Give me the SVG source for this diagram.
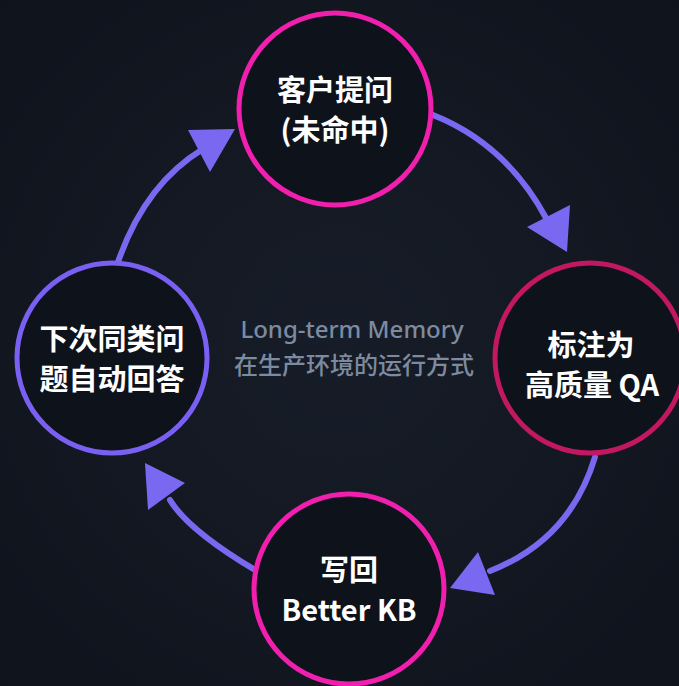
<svg xmlns="http://www.w3.org/2000/svg" width="679" height="686" viewBox="0 0 679 686">
  <defs>
    <radialGradient id="bg" cx="50%" cy="50%" r="70%">
      <stop offset="0" stop-color="#171d28"/>
      <stop offset="1" stop-color="#0f131c"/>
    </radialGradient>
    <style>
      .ring { fill: #0e121a; stroke-width: 5; }
      .pink { stroke: #f01fae; }
      .crimson { stroke: #c21862; }
      .violet { stroke: #7a60f2; }
      .label { font-family: "Noto Sans CJK SC", "Noto Sans", sans-serif; font-weight: 700; font-size: 29px; fill: #ffffff; text-anchor: middle; }
      .center { font-family: "Noto Sans", "Noto Sans CJK SC", sans-serif; font-weight: 500; font-size: 24px; fill: #7d8ba0; text-anchor: middle; }
      .flow { fill: none; stroke: #7b68f0; stroke-width: 6; stroke-linecap: round; }
      .head { fill: #7b68f0; }
    </style>
  </defs>

  <rect width="679" height="686" fill="url(#bg)"/>

  <!-- cycle connectors -->
  <g id="connectors">
    <path class="flow" d="M433 115 Q506 144 546 218"/>
    <polygon class="head" points="567,252 527,227 570,205"/>

    <path class="flow" d="M595 457 Q570 540 490 571"/>
    <polygon class="head" points="450,588 478,552 495,595"/>

    <path class="flow" d="M255 570 Q188 530 170 500"/>
    <polygon class="head" points="145,463 185,483 148,510"/>

    <path class="flow" d="M118 262 Q145 184 203 149"/>
    <polygon class="head" points="235,129 188,130 210,172"/>
  </g>

  <g id="node-ask">
    <circle class="ring pink" cx="335" cy="109" r="96"/>
    <text class="label" x="335" y="101">客户提问</text>
    <text class="label" x="335" y="141">(未命中)</text>
  </g>

  <g id="node-label">
    <circle class="ring crimson" cx="590" cy="358" r="95"/>
    <text class="label" x="591" y="356">标注为</text>
    <text class="label" x="592" y="396">高质量 QA</text>
  </g>

  <g id="node-writeback">
    <circle class="ring pink" cx="349" cy="589" r="95"/>
    <text class="label" x="349" y="581">写回</text>
    <text class="label" x="349" y="621">Better KB</text>
  </g>

  <g id="node-answer">
    <circle class="ring violet" cx="112" cy="358" r="95"/>
    <text class="label" x="112" y="350">下次同类问</text>
    <text class="label" x="112" y="390">题自动回答</text>
  </g>

  <g id="caption">
    <text class="center" x="352" y="338">Long-term Memory</text>
    <text class="center" x="354" y="374">在生产环境的运行方式</text>
  </g>
</svg>
